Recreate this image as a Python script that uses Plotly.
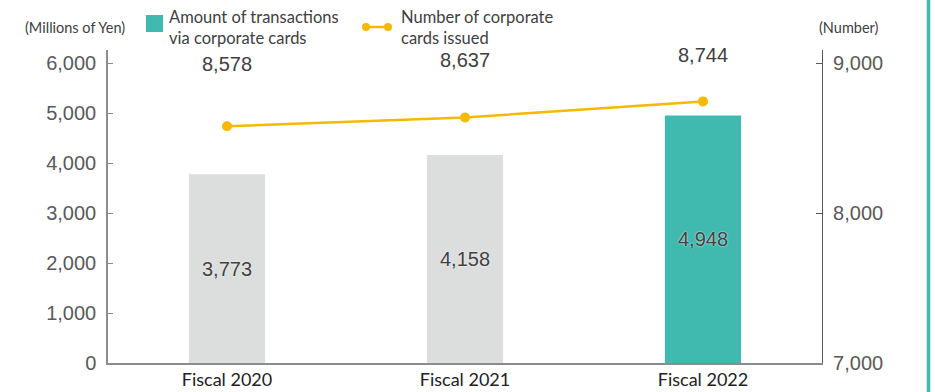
import plotly.graph_objects as go

# Fiscal-year data
categories = ["Fiscal 2020", "Fiscal 2021", "Fiscal 2022"]
transaction_amount = [3773, 4158, 4948]      # millions of yen
cards_issued = [8578, 8637, 8744]            # number of corporate cards

bar_colors = ["#dcdddd", "#dcdddd", "#40b9af"]
line_color = "#f6b800"
text_color = "#404040"

W, H = 935, 392
L, R, T, B = 108, 113, 50, 29
plot_w, plot_h = W - L - R, H - T - B


def px(x):
    return (x - L) / plot_w


def py(y):
    return (H - B - y) / plot_h


fig = go.Figure()

fig.add_trace(go.Bar(
    x=categories, y=transaction_amount,
    marker=dict(color=bar_colors, line=dict(width=0)),
    width=0.32,
    texttemplate="%{y:,}",
    textposition="inside",
    insidetextanchor="middle",
    textangle=0,
    textfont=dict(family="Liberation Sans, Arial", size=20, color=text_color,
                  shadow="0px 0px 2px #ffffff"),
    showlegend=False,
    yaxis="y",
))

fig.add_trace(go.Scatter(
    x=categories, y=cards_issued,
    mode="lines+markers",
    line=dict(color=line_color, width=2.5),
    marker=dict(color=line_color, size=10),
    showlegend=False,
    yaxis="y2",
))

annotations = []
# values of the card count written along the top
label_y = [py(64), py(60), py(55)]
for cat, v, yy in zip(categories, cards_issued, label_y):
    annotations.append(dict(
        x=cat, xref="x", y=yy, yref="paper", text=f"{v:,}", showarrow=False,
        font=dict(family="Liberation Sans, Arial", size=20, color=text_color),
        xanchor="center", yanchor="middle",
    ))

# axis unit captions
annotations.append(dict(x=px(75), y=py(27), xref="paper", yref="paper",
                        text="(Millions of Yen)", showarrow=False,
                        font=dict(family="Lato", size=14.5, color=text_color),
                        xanchor="center", yanchor="middle"))
annotations.append(dict(x=px(849), y=py(27), xref="paper", yref="paper",
                        text="(Number)", showarrow=False,
                        font=dict(family="Lato", size=14.5, color=text_color),
                        xanchor="center", yanchor="middle"))

# hand-drawn legend
annotations.append(dict(x=px(167), y=py(27), xref="paper", yref="paper",
                        text="Amount of transactions<br>via corporate cards",
                        showarrow=False, align="left",
                        font=dict(family="Lato", size=16.5, color=text_color),
                        xanchor="left", yanchor="middle"))
annotations.append(dict(x=px(399), y=py(27), xref="paper", yref="paper",
                        text="Number of corporate<br>cards issued",
                        showarrow=False, align="left",
                        font=dict(family="Lato", size=16.5, color=text_color),
                        xanchor="left", yanchor="middle"))

shapes = [
    dict(type="rect", xref="paper", yref="paper",
         x0=px(146), x1=px(163), y0=py(32), y1=py(15),
         fillcolor="#40b9af", line=dict(width=0)),
    dict(type="line", xref="paper", yref="paper",
         x0=px(366), x1=px(388), y0=py(27), y1=py(27),
         line=dict(color=line_color, width=2.5)),
    dict(type="circle", xref="paper", yref="paper",
         x0=px(362), x1=px(370), y0=py(31), y1=py(23),
         fillcolor=line_color, line=dict(width=0)),
    dict(type="circle", xref="paper", yref="paper",
         x0=px(384), x1=px(392), y0=py(31), y1=py(23),
         fillcolor=line_color, line=dict(width=0)),
    # right-hand frame rule
    dict(type="line", xref="paper", yref="paper",
         x0=px(928.5), x1=px(928.5), y0=py(H), y1=py(0),
         line=dict(color="#40b9af", width=3.5)),
]

fig.update_layout(
    width=W, height=H,
    margin=dict(l=L, r=R, t=T, b=B, pad=0, autoexpand=False),
    paper_bgcolor="white", plot_bgcolor="white",
    xaxis=dict(
        automargin=False,
        showgrid=False, zeroline=False,
        showline=True, linecolor="#8c8c8c", linewidth=1.5,
        ticks="", tickfont=dict(family="Lato", size=18, color="#222222"),
    ),
    yaxis=dict(
        automargin=False,
        range=[0, 6260], tickvals=[0, 1000, 2000, 3000, 4000, 5000, 6000],
        tickformat=",", showgrid=False, zeroline=False,
        showline=True, linecolor="#8c8c8c", linewidth=1.5,
        ticks="inside", ticklen=5, tickcolor="#8c8c8c",
        tickfont=dict(family="Liberation Sans, Arial", size=20, color="#595959"),
        ticklabelstandoff=6,
    ),
    yaxis2=dict(
        automargin=False,
        overlaying="y", side="right",
        range=[7000, 9086.7], tickvals=[7000, 8000, 9000],
        tickformat=",", showgrid=False, zeroline=False,
        showline=True, linecolor="#595959", linewidth=1.2,
        ticks="inside", ticklen=6, tickcolor="#595959",
        tickfont=dict(family="Liberation Sans, Arial", size=20, color="#595959"),
        ticklabelstandoff=6,
    ),
    annotations=annotations,
    shapes=shapes,
)

fig.write_html("out.html")
